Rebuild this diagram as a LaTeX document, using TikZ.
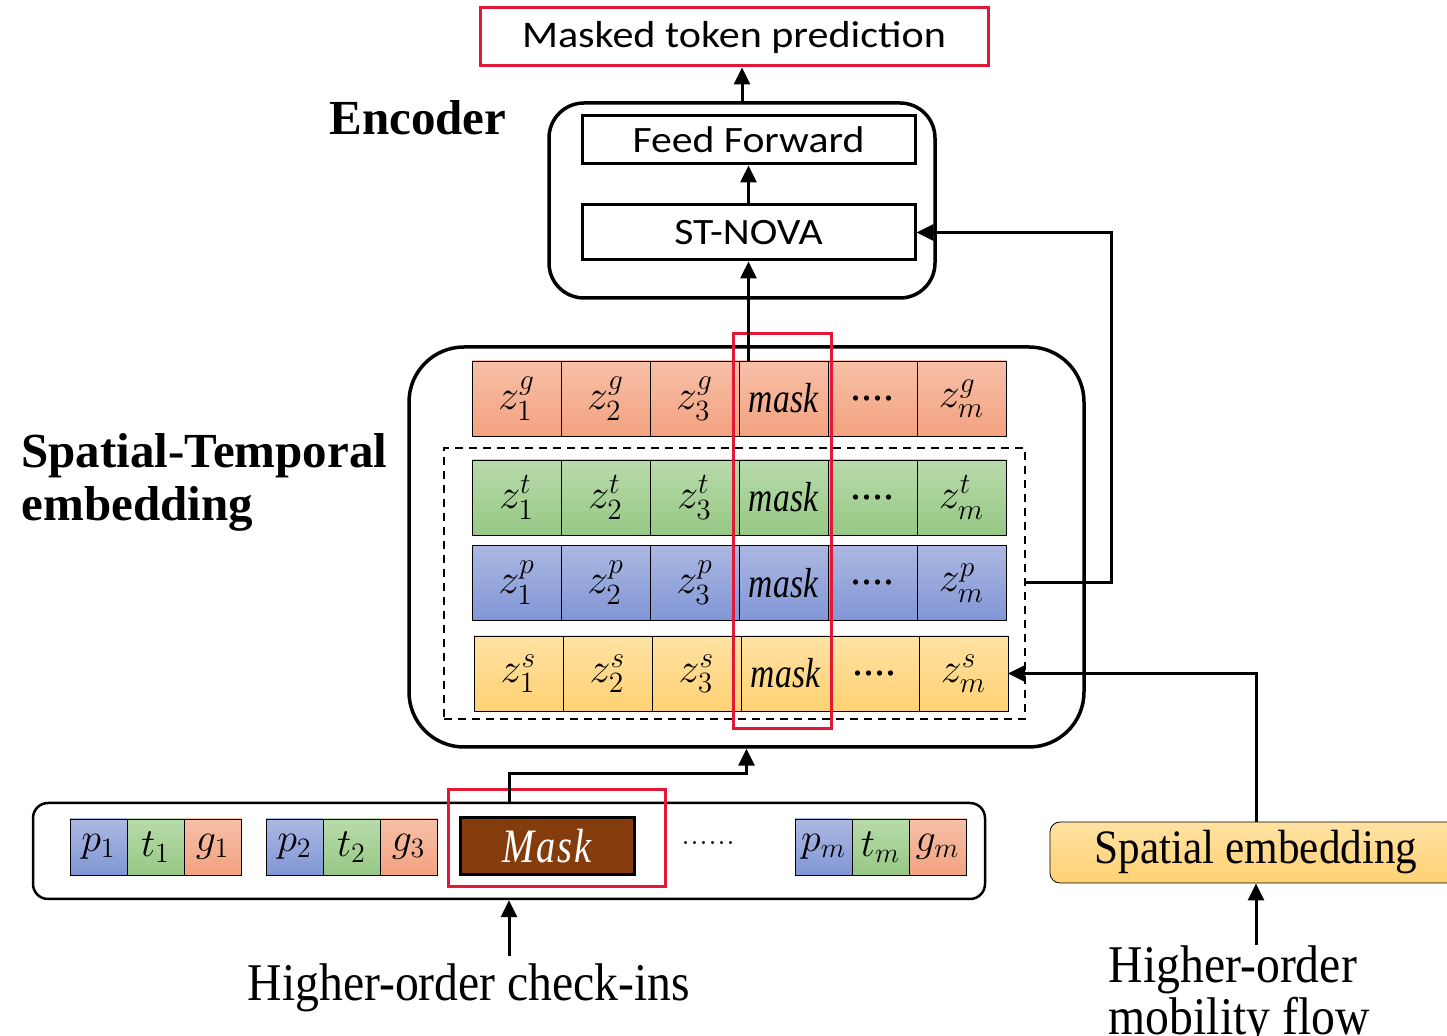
\documentclass[tikz,border=0pt]{standalone}
\usepackage{fix-cm}
\usepackage{amsmath}
\usepackage{fontspec}
\usepackage{tikz}
\usetikzlibrary{arrows,arrows.meta,shapes,positioning}
\usepackage{xcolor}
\newfontfamily\blockfont[FakeStretch=1.12]{Carlito}
\newfontfamily\titlefont{Liberation Serif}
\newfontfamily\condfont[FakeStretch=0.9]{Liberation Serif}
\newfontfamily\maskfont[FakeStretch=0.8]{Liberation Serif}
\definecolor{redbox}{RGB}{226,24,54}
\definecolor{gtop}{RGB}{247,192,168}
\definecolor{gbot}{RGB}{243,162,127}
\definecolor{ttop}{RGB}{184,219,171}
\definecolor{tbot}{RGB}{150,200,132}
\definecolor{ptop}{RGB}{172,184,226}
\definecolor{pbot}{RGB}{128,150,213}
\definecolor{stop}{RGB}{255,226,163}
\definecolor{sbot}{RGB}{255,209,115}
\definecolor{maskbrown}{RGB}{132,60,12}

\begin{document}
\begin{tikzpicture}[x=0.5pt,y=-0.5pt,>={Triangle[length=8.5pt,width=8pt]},thick]
      \tikzstyle{block}=[rectangle,draw,line width=1.5pt,inner sep=0pt,font=\blockfont\fontsize{18.6}{20}\selectfont]
      \tikzstyle{frame}=[rectangle,draw,rounded corners=17.5pt,line width=1.75pt]
      \tikzstyle{redframe}=[rectangle,draw=redbox,line width=1.5pt]
      \tikzstyle{cell}=[rectangle,draw,thin,inner sep=0pt,outer sep=0pt,minimum width=44.5pt,minimum height=37.5pt,font=\fontsize{21}{24}\selectfont]
      \tikzstyle{tok}=[rectangle,draw,thin,inner sep=0pt,outer sep=0pt,minimum width=28.5pt,minimum height=28pt,font=\fontsize{20}{22}\selectfont]
      \tikzstyle{gcol}=[top color=gtop,bottom color=gbot]
      \tikzstyle{tcol}=[top color=ttop,bottom color=tbot]
      \tikzstyle{pcol}=[top color=ptop,bottom color=pbot]
      \tikzstyle{scol}=[top color=stop,bottom color=sbot]
      \tikzstyle{conn}=[->,line width=1.5pt]
      \useasboundingbox (0,0) rectangle (1447,1036);
      % encoder
      \node[redframe,minimum width=254pt,minimum height=29pt,font=\blockfont\fontsize{18.8}{20}\selectfont](mtp) at (734,37){Masked token prediction};
      \node[frame,minimum width=193pt,minimum height=97.5pt](enc) at (742,200.5){};
      \node[block,minimum width=166.5pt,minimum height=24pt](ff) at (748.5,140){Feed Forward};
      \node[block,minimum width=166.5pt,minimum height=27.5pt](st) at (748.5,232.5){ST-NOVA};
      \node[font=\titlefont\bfseries\fontsize{24.5}{26.5}\selectfont](enclab) at (418,118){Encoder};
      % spatial-temporal embedding
      \node[frame,rounded corners=27.5pt,minimum width=337.5pt,minimum height=200pt](emb) at (746.5,547){};
      \node[draw,line width=1.2pt,dash pattern=on 4pt off 3pt,minimum width=290.5pt,minimum height=135.5pt](tps) at (734.5,583.5){};
      \node[align=left,anchor=west,font=\titlefont\bfseries\fontsize{24.5}{26.5}\selectfont](stlab) at (14,482){Spatial-Temporal\\embedding};
      \foreach \r/\y/\dx/\col in {g/398.5/0/gcol,t/497.5/0/tcol,p/583/0/pcol,s/673.5/2/scol}{
        \node[cell,\col](z\r1) at (516.5+\dx,\y){$z_1^{\r}$};
        \node[cell,\col,right=0pt of z\r1](z\r2){$z_2^{\r}$};
        \node[cell,\col,right=0pt of z\r2](z\r3){$z_3^{\r}$};
        \node[cell,\col,right=0pt of z\r3](z\r4){\maskfont\itshape\fontsize{21}{24}\selectfont mask};
        \node[cell,\col,right=0pt of z\r4](z\r5){\titlefont\fontsize{22}{24}\selectfont....};
        \node[cell,\col,right=0pt of z\r5](z\r6){$z_m^{\r}$};
      }
      \node[redframe,minimum width=49pt,minimum height=197.5pt](maskcol) at (782,531.5){};
      % inputs
      \node[frame,rounded corners=7.5pt,line width=1.25pt,minimum width=476pt,minimum height=48pt](inp) at (509,851){};
      \node[tok,pcol](p1) at (98.5,847){$p_1$};
      \node[tok,tcol,right=0pt of p1](t1){$t_1$};
      \node[tok,gcol,right=0pt of t1](g1){$g_1$};
      \node[tok,pcol](p2) at (294.5,847){$p_2$};
      \node[tok,tcol,right=0pt of p2](t2){$t_2$};
      \node[tok,gcol,right=0pt of t2](g2){$g_3$};
      \node[rectangle,draw,line width=1.5pt,fill=maskbrown,text=white,minimum width=87pt,minimum height=28.5pt,font=\maskfont\itshape\fontsize{24}{28}\selectfont](mask) at (547,846.5){M\kern1pt a\kern1pt s\kern1pt k};
      \node[redframe,minimum width=108.5pt,minimum height=48.5pt](maskred) at (556.5,838.5){};
      \node[font=\fontsize{18}{20}\selectfont](dots) at (708,843){......};
      \node[tok,pcol](pm) at (823.5,847){$p_m$};
      \node[tok,tcol,right=0pt of pm](tm){$t_m$};
      \node[tok,gcol,right=0pt of tm](gm){$g_m$};
      \node[font=\condfont\fontsize{26.5}{28}\selectfont](chk) at (469,988){Higher-order check-ins};
      \node[rectangle,draw,thin,rounded corners=5pt,top color=stop,bottom color=sbot,minimum width=206pt,minimum height=30.5pt,font=\condfont\fontsize{24}{26}\selectfont](se) at (1256,852.5){Spatial embedding};
      \node[align=left,anchor=north west,inner sep=0pt,font=\condfont\fontsize{26.5}{26}\selectfont](mob) at (1108,945){Higher-order\\mobility flow};
      % connectors
      \draw[conn](enc.north)--(enc.north |- mtp.south);
      \draw[conn](st.north)--(ff.south);
      \draw[conn](st.south |- zg1.north)--(st.south);
      \draw[conn](tps.east |- zp6.east)--++(85,0)|-(st.east);
      \draw[conn](se.north)|-(zs6.east);
      \draw[conn](inp.north)--++(0,-28)-|(emb.south);
      \draw[conn](inp.south |- chk.north)--(inp.south);
      \draw[conn](se.south |- mob.north)--(se.south);
    \end{tikzpicture}
\end{document}
